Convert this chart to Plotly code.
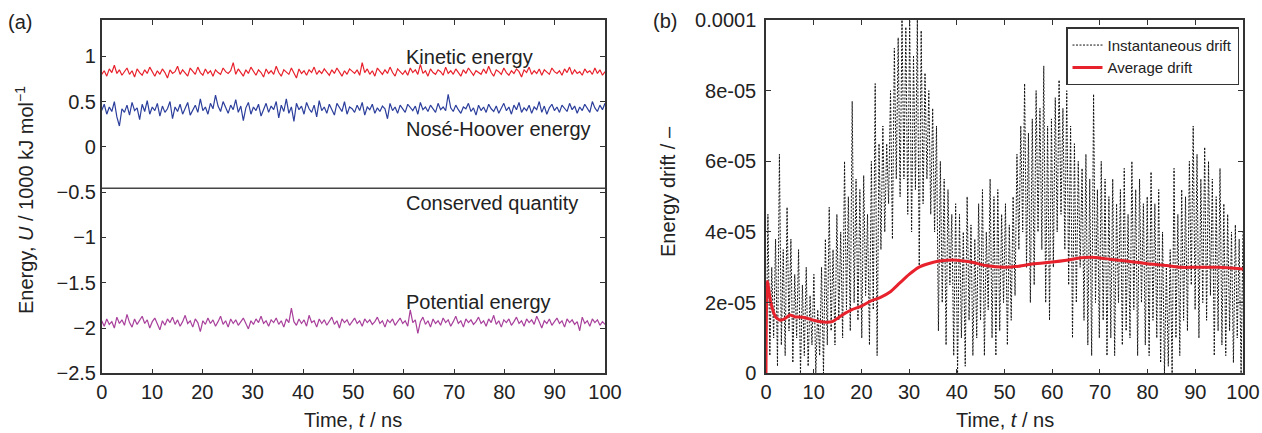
import numpy as np
import plotly.graph_objects as go

# ---------------- data ----------------
kinetic = [0.80,0.84,0.78,0.86,0.82,0.90,0.81,0.85,0.79,0.83,
0.87,0.80,0.84,0.77,0.86,0.82,0.79,0.85,0.81,0.88,
0.83,0.78,0.84,0.80,0.86,0.82,0.76,0.85,0.81,0.83,
0.89,0.80,0.85,0.82,0.78,0.87,0.83,0.80,0.88,0.82,
0.79,0.86,0.81,0.84,0.78,0.85,0.82,0.80,0.87,0.83,
0.81,0.84,0.93,0.80,0.86,0.82,0.78,0.85,0.81,0.88,
0.83,0.79,0.85,0.82,0.77,0.86,0.81,0.84,0.80,0.89,
0.82,0.78,0.85,0.83,0.80,0.87,0.82,0.76,0.86,0.81,
0.84,0.79,0.85,0.82,0.88,0.80,0.84,0.81,0.86,0.83,
0.79,0.85,0.81,0.87,0.82,0.78,0.84,0.80,0.86,0.83,
0.81,0.85,0.79,0.93,0.82,0.86,0.80,0.84,0.78,0.87,
0.83,0.80,0.85,0.81,0.88,0.82,0.78,0.86,0.83,0.80,
0.84,0.79,0.87,0.82,0.85,0.80,0.91,0.81,0.84,0.78,
0.86,0.82,0.80,0.85,0.83,0.79,0.88,0.81,0.84,0.80,
0.86,0.82,0.78,0.85,0.81,0.87,0.83,0.79,0.84,0.82,
0.80,0.86,0.81,0.89,0.82,0.78,0.85,0.83,0.80,0.87,
0.82,0.79,0.84,0.81,0.86,0.83,0.77,0.85,0.82,0.88,
0.80,0.84,0.81,0.86,0.79,0.85,0.82,0.80,0.87,0.83,
0.81,0.84,0.79,0.86,0.82,0.88,0.80,0.85,0.81,0.83,
0.79,0.86,0.82,0.84,0.80,0.87,0.81,0.85,0.79,0.83]

nose_hoover = [0.40,0.47,0.36,0.44,0.39,0.50,0.33,0.23,0.42,0.38,
0.46,0.35,0.49,0.40,0.43,0.30,0.47,0.39,0.51,0.36,
0.44,0.40,0.48,0.34,0.45,0.38,0.42,0.50,0.31,0.44,
0.39,0.47,0.36,0.43,0.49,0.35,0.41,0.46,0.38,0.53,
0.40,0.44,0.36,0.48,0.42,0.57,0.45,0.39,0.50,0.43,
0.37,0.46,0.41,0.52,0.38,0.45,0.29,0.43,0.49,0.36,
0.44,0.40,0.47,0.34,0.42,0.48,0.38,0.45,0.41,0.50,
0.32,0.46,0.39,0.53,0.37,0.44,0.28,0.48,0.41,0.45,
0.36,0.49,0.42,0.38,0.46,0.33,0.51,0.40,0.44,0.37,
0.47,0.41,0.35,0.48,0.43,0.39,0.50,0.36,0.44,0.42,
0.38,0.46,0.40,0.49,0.35,0.44,0.41,0.47,0.37,0.43,
0.39,0.45,0.42,0.31,0.48,0.40,0.44,0.37,0.46,0.42,
0.38,0.47,0.43,0.40,0.45,0.36,0.49,0.41,0.44,0.39,
0.46,0.42,0.38,0.48,0.41,0.44,0.40,0.58,0.43,0.39,
0.46,0.41,0.37,0.44,0.42,0.48,0.39,0.43,0.35,0.46,
0.40,0.44,0.38,0.47,0.42,0.39,0.45,0.37,0.43,0.48,
0.40,0.44,0.36,0.46,0.41,0.49,0.38,0.43,0.40,0.46,
0.37,0.44,0.41,0.50,0.38,0.45,0.36,0.43,0.47,0.40,
0.44,0.38,0.46,0.42,0.39,0.48,0.41,0.45,0.37,0.44,
0.40,0.47,0.42,0.38,0.50,0.43,0.39,0.46,0.41,0.48]

potential = [-1.92,-1.98,-1.90,-1.96,-1.93,-2.00,-1.88,-1.95,-1.91,-1.97,
-1.85,-1.94,-1.99,-1.90,-1.96,-1.92,-1.87,-1.95,-1.91,-2.00,
-1.93,-1.89,-1.96,-2.02,-1.92,-1.97,-1.90,-1.94,-1.88,-1.96,
-1.91,-1.98,-1.93,-1.86,-1.95,-1.92,-1.99,-1.90,-1.94,-2.04,
-1.92,-1.96,-1.89,-1.95,-1.91,-1.98,-1.93,-1.87,-1.96,-1.92,
-1.99,-1.90,-1.95,-1.91,-1.97,-1.93,-1.89,-1.95,-2.01,-1.92,
-1.96,-1.90,-1.94,-1.87,-1.95,-1.92,-1.98,-1.91,-1.94,-1.89,
-1.96,-1.92,-1.99,-1.90,-1.94,-1.78,-1.93,-1.97,-1.90,-1.95,
-1.91,-1.98,-1.86,-1.94,-1.92,-1.99,-1.90,-1.95,-1.91,-1.97,
-1.93,-1.88,-1.96,-1.92,-2.00,-1.90,-1.94,-1.91,-1.97,-1.93,
-1.89,-1.95,-1.92,-1.98,-1.90,-1.94,-1.91,-1.96,-1.93,-1.88,
-1.95,-1.92,-1.99,-1.91,-1.94,-1.90,-1.97,-1.93,-1.89,-1.95,
-1.92,-1.98,-1.80,-1.94,-1.91,-2.06,-1.93,-1.88,-1.96,-1.92,
-1.99,-1.90,-1.95,-1.92,-1.97,-1.89,-1.94,-1.91,-1.98,-1.93,
-1.87,-1.95,-1.92,-1.99,-1.90,-1.94,-1.91,-1.96,-1.93,-1.88,
-1.95,-1.92,-1.98,-1.90,-1.94,-1.86,-1.96,-1.92,-1.99,-1.91,
-1.94,-1.90,-1.97,-1.93,-1.88,-1.95,-1.92,-1.98,-1.90,-1.94,
-1.91,-1.96,-1.87,-1.93,-2.00,-1.92,-1.95,-1.90,-1.97,-1.93,
-1.89,-1.95,-1.92,-1.99,-1.90,-1.94,-1.91,-1.96,-1.93,-2.03,
-1.88,-1.95,-1.92,-1.98,-1.90,-1.94,-1.91,-1.97,-1.93,-1.96]

conserved_t = [0, 100]
conserved = [-0.458, -0.458]

# instantaneous drift, units of 1e-6
inst_drift = [0,45,5,30,10,38,2,62,8,35,
5,47,12,38,3,28,10,35,0,25,
5,30,2,22,8,28,0,18,5,30,
0,38,8,47,12,35,8,45,15,40,
10,60,18,50,12,77,20,55,15,52,
10,56,22,45,8,60,18,82,5,65,
35,70,40,65,48,80,38,92,55,95,
50,100,55,98,45,100,40,90,52,100,
30,97,48,85,55,80,45,75,40,70,
12,60,20,55,8,52,25,45,5,48,
0,45,10,40,2,50,15,42,5,38,
10,48,15,52,5,40,18,55,10,50,
5,52,12,45,20,48,8,42,15,50,
22,62,35,70,40,82,30,68,20,72,
25,80,40,75,35,87,20,70,15,72,
30,78,40,83,45,75,35,80,25,70,
10,65,20,60,30,58,15,62,8,55,
5,79,20,52,10,60,15,55,5,50,
10,55,5,48,20,52,8,58,12,45,
10,60,18,52,5,55,20,48,8,50,
5,57,15,48,10,52,3,40,0,30,
2,35,0,58,10,45,5,52,15,50,
12,60,25,70,18,62,10,55,20,64,
15,60,22,55,5,50,12,58,8,48,
5,45,12,40,3,42,10,38,0,40]

avg_t = [0,0.3,1,2,3,4,5,6,8,10,12,14,16,18,20,22,24,26,28,30,32,34,36,38,40,43,46,50,53,56,60,63,66,69,72,76,80,84,87,90,95,100]
avg_drift = [0,26,20,16,15,15.5,16.5,16,15.8,15,14.5,14.7,16.5,18,19,20.5,21.5,23,25.5,28,30,31,31.7,32,32,31.5,30.5,30,30.3,31,31.5,32,32.7,32.8,32.3,31.7,31,30.5,30,30,30,29.5]

energy_ticks = [-2.5, -2, -1.5, -1, -0.5, 0, 0.5, 1]
drift_ticks = [0, 2e-5, 4e-5, 6e-5, 8e-5, 1e-4]
drift_ticktext = ["0", "2e-05", "4e-05", "6e-05", "8e-05", "0.0001"]
time_ticks = [0, 10, 20, 30, 40, 50, 60, 70, 80, 90, 100]

# ---------------- figure ----------------
W, H = 1262, 433
FONT = "Liberation Sans, Arial, Helvetica, sans-serif"
TXT = "#222222"
AX = "#333333"

t_e = np.linspace(0, 100, len(kinetic))
t_d = np.linspace(0, 100, len(inst_drift))
scale = 1e-6

fig = go.Figure()
fig.add_trace(go.Scatter(x=t_e, y=kinetic, mode="lines", line=dict(color="#e8222c", width=1.2), showlegend=False, xaxis="x", yaxis="y"))
fig.add_trace(go.Scatter(x=t_e, y=nose_hoover, mode="lines", line=dict(color="#2c3f9c", width=1.2), showlegend=False, xaxis="x", yaxis="y"))
fig.add_trace(go.Scatter(x=conserved_t, y=conserved, mode="lines", line=dict(color="#444444", width=1.5), showlegend=False, xaxis="x", yaxis="y"))
fig.add_trace(go.Scatter(x=t_e, y=potential, mode="lines", line=dict(color="#a8409c", width=1.2), showlegend=False, xaxis="x", yaxis="y"))

fig.add_trace(go.Scatter(x=t_d, y=[v * scale for v in inst_drift], mode="lines", name="Instantaneous drift",
                         line=dict(color="#111111", width=1, dash="2px,1.5px"), xaxis="x2", yaxis="y2"))
fig.add_trace(go.Scatter(x=avg_t, y=[v * scale for v in avg_drift], mode="lines", name="Average drift",
                         line=dict(color="#e8222c", width=3, shape="spline", smoothing=0.6), xaxis="x2", yaxis="y2"))

def px_x(p):
    return p / W

def px_y(p):
    return 1 - p / H

axis_common = dict(showline=True, mirror="ticks", linecolor=AX, linewidth=1.5, ticks="inside", ticklen=5,
                   tickcolor=AX, tickwidth=1, showgrid=False, zeroline=False,
                   tickfont=dict(family=FONT, size=20, color=TXT))

fig.update_layout(
    width=W, height=H, margin=dict(l=0, r=0, t=0, b=0, autoexpand=False),
    paper_bgcolor="white", plot_bgcolor="white",
    font=dict(family=FONT, color=TXT),
    xaxis=dict(domain=[px_x(101.7), px_x(605)], range=[0, 100], tickvals=time_ticks, anchor="y", **axis_common),
    yaxis=dict(domain=[px_y(373.3), px_y(20)], range=[-2.5, 1.4], tickvals=energy_ticks, anchor="x", **axis_common),
    xaxis2=dict(domain=[px_x(766), px_x(1243)], range=[0, 100], tickvals=time_ticks, anchor="y2", **axis_common),
    yaxis2=dict(domain=[px_y(373.3), px_y(20)], range=[0, 1e-4], tickvals=drift_ticks, ticktext=drift_ticktext,
                anchor="x2", ticklabelstandoff=4, **axis_common),
    legend=dict(x=px_x(1239), y=px_y(27.3), xanchor="right", yanchor="top", bgcolor="white",
                bordercolor=AX, borderwidth=1.5, font=dict(family=FONT, size=15, color=TXT),
                tracegroupgap=0, itemwidth=30),
)

ann = []
def txt(x, y, text, xref="paper", yref="paper", size=20, xanchor="center", yanchor="middle", angle=0):
    ann.append(dict(x=x, y=y, xref=xref, yref=yref, text=text, showarrow=False, xanchor=xanchor,
                    yanchor=yanchor, textangle=angle, font=dict(family=FONT, size=size, color=TXT)))

txt(60.1, 0.995, "Kinetic energy", "x", "y", 20, "left")
txt(60.1, 0.197, "Nosé-Hoover energy", "x", "y", 20, "left")
txt(60.1, -0.617, "Conserved quantity", "x", "y", 20, "left")
txt(60.1, -1.709, "Potential energy", "x", "y", 20, "left")

txt(px_x(20), px_y(22), "(a)", size=20)
txt(px_x(665), px_y(21), "(b)", size=20)

txt(px_x(353), px_y(420), "Time, <i>t</i> / ns")
txt(px_x(1004.5), px_y(420), "Time, <i>t</i> / ns")
txt(px_x(25), px_y(200), "Energy, <i>U</i> / 1000 kJ mol<sup>−1</sup>", angle=-90)
txt(px_x(668), px_y(192), "Energy drift / –", angle=-90)

fig.update_layout(annotations=ann)
fig.write_html("out.html", config={"displayModeBar": False},
               post_script="document.body.style.margin='0px';")
